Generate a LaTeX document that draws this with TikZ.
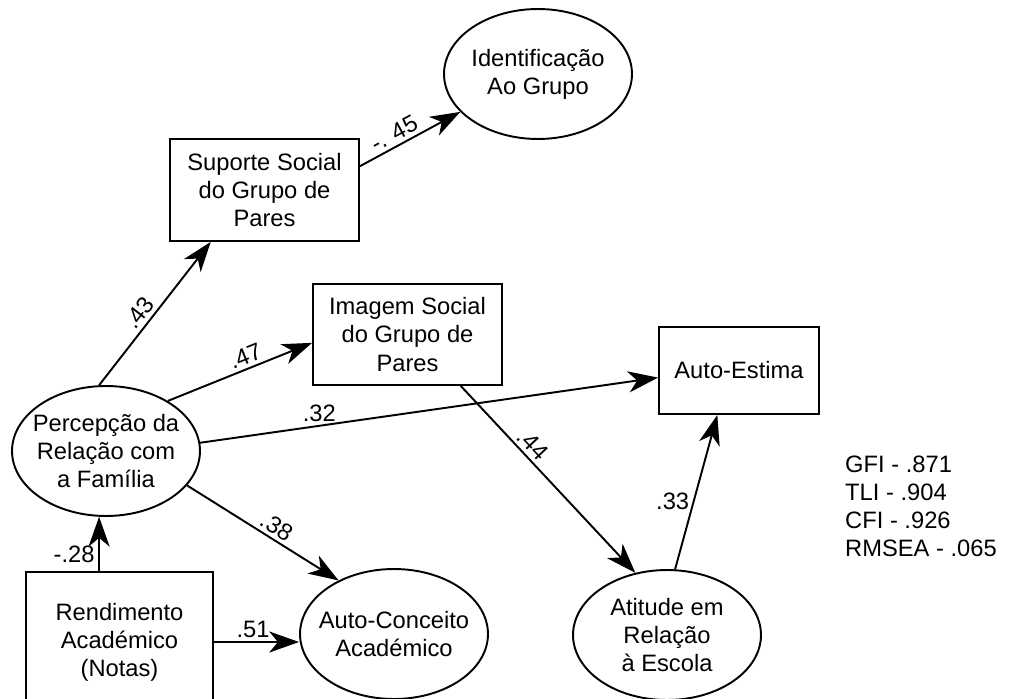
\documentclass[tikz,border=0pt]{standalone}
\usepackage{fontspec}
\setmainfont{Liberation Sans}
\usetikzlibrary{arrows.meta, shapes}

\begin{document}
\begin{tikzpicture}[x=0.02cm, y=-0.02cm, font=\fontsize{13.5}{16}\selectfont]

  \tikzstyle{latent} = [ellipse, draw=black, line width=1.1pt, minimum width=3.76cm, minimum height=2.6cm, align=center, inner xsep=-6pt, inner ysep=0pt];
  \tikzstyle{observed} = [rectangle, draw=black, line width=1.1pt, align=center];
  \tikzstyle{effect} = [line width=1.1pt, -{Stealth[length=17pt, width=12pt, inset=5pt]}];
  \tikzstyle{coef} = [inner sep=2pt];

  \useasboundingbox (0,0) rectangle (1010,699);
  \clip (0,0) rectangle (1010,699);

  \node [latent] (percep)   at (106,451) {Percepção da\\Relação com\\a Família};
  \node [latent] (ident)    at (538,74)  {Identificação\\Ao Grupo};
  \node [latent] (conceito) at (394,634) {Auto-Conceito\\Académico};
  \node [latent] (atitude)  at (667,635) {Atitude em\\Relação\\à Escola};

  \node [observed, minimum width=3.78cm, minimum height=2.04cm] (suporte) at (264.5,190) {Suporte Social\\do Grupo de\\Pares};
  \node [observed, minimum width=3.78cm, minimum height=2.02cm] (imagem)  at (407.5,334.5) {Imagem Social\\do Grupo de\\Pares};
  \node [observed, minimum width=3.2cm, minimum height=1.74cm]  (estima)  at (739,370.5) {Auto-Estima};
  \node [observed, minimum width=3.74cm, minimum height=2.8cm]  (rend)    at (119.5,642) {Rendimento\\Académico\\(Notas)};

  \draw [effect] (percep.96) -- node [coef, sloped, above, pos=0.45] {.43} (suporte.224);
  \draw [effect] (percep.39) -- node [coef, sloped, above, pos=0.57] {.47} (imagem.185);
  \draw [effect] (percep.5) -- node [coef, above, pos=0.26] {.32} (estima.185);
  \draw [effect] (percep.-23) -- node [coef, sloped, above, pos=0.55] {.38} (conceito.136);
  \draw [effect] (rend.north -| percep.264) -- node [coef, left, pos=0.3] {-.28} (percep.264);
  \draw [effect] (rend.east) -- node [coef, above, pos=0.46] {.51} (rend.east -| conceito.west);
  \draw [effect] (suporte.14) -- node [coef, sloped, above, pos=0.4] {-. 45} (ident.206);
  \draw [effect] (imagem.-44) -- node [coef, sloped, above, pos=0.36] {.44} (atitude.117);
  \draw [effect] (atitude.83) -- node [coef, left, pos=0.44] {.33} (estima.244);

  \node [align=left, anchor=west] (gof) at (839,506) {GFI - .871\\TLI - .904\\CFI - .926\\RMSEA - .065};

\end{tikzpicture}
\end{document}
